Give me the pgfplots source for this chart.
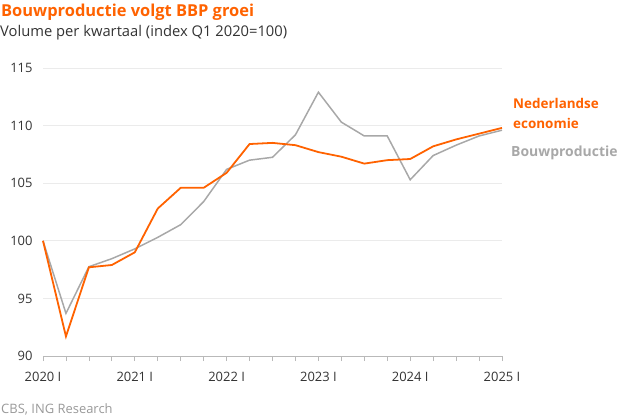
\documentclass[border=0pt]{standalone}
\usepackage{pgfplots}
\pgfplotsset{compat=1.18}
\usepackage{fontspec}
\setmainfont{Open Sans}
\definecolor{ingorange}{HTML}{FF6200}
\definecolor{inggray}{HTML}{A8A8A8}
\definecolor{gridgray}{HTML}{EBEBEB}
\definecolor{txt}{HTML}{333333}

\begin{document}
\begin{tikzpicture}[x=1bp,y=1bp]
\path[use as bounding box] (-43,-62) rectangle (583,356);
\begin{axis}[
    at={(0,0)}, anchor=origin,
    scale only axis,
    width=459bp, height=288bp,
    xmin=0, xmax=20, ymin=90, ymax=115,
    axis y line*=left,
    axis x line*=bottom,
    y axis line style={draw=none},
    x axis line style={draw=inggray!80, line width=0.8pt, -},
    ytick={90,95,...,115},
    xtick={0,...,20},
    xticklabels={2020 I,,,,2021 I,,,,2022 I,,,,2023 I,,,,2024 I,,,,2025 I},
    ymajorgrids, grid style={gridgray, line width=0.8pt},
    ytick style={draw=none},
    xtick style={draw=inggray!80, line width=0.8pt},
    tick align=outside, major tick length=5bp,
    tick label style={font=\fontsize{13}{15}\selectfont, text=txt},
    yticklabel style={anchor=east, xshift=-2bp},
    xticklabel style={yshift=-8bp},
    /pgf/number format/assume math mode=true,
    clip=false,
]
\addplot[inggray, line width=1.5pt] coordinates {
 (0,100) (1,93.7) (2,97.75) (3,98.45) (4,99.3) (5,100.3) (6,101.4) (7,103.4)
 (8,106.2) (9,107.0) (10,107.25) (11,109.2) (12,112.9) (13,110.3) (14,109.1)
 (15,109.1) (16,105.3) (17,107.4) (18,108.3) (19,109.1) (20,109.6)
};
\addplot[ingorange, line width=1.8pt] coordinates {
 (0,100) (1,91.7) (2,97.7) (3,97.9) (4,99.0) (5,102.8) (6,104.6) (7,104.6)
 (8,105.9) (9,108.4) (10,108.5) (11,108.3) (12,107.7) (13,107.3) (14,106.7)
 (15,107.0) (16,107.1) (17,108.2) (18,108.8) (19,109.3) (20,109.8)
};
\end{axis}
\node[anchor=west, text=ingorange, font=\fontsize{13.5}{20}\selectfont\bfseries, align=left, inner sep=0pt] at (470,243) {Nederlandse\\economie};
\node[anchor=west, text=inggray, font=\fontsize{14}{20}\selectfont\bfseries, inner sep=0pt] at (468,203) {Bouwproductie};
\node[anchor=west, text=ingorange, font=\fontsize{16.5}{18}\selectfont\bfseries, inner sep=0pt] at (-42,344) {Bouwproductie volgt BBP groei};
\node[anchor=west, text=txt, font=\fontsize{14.8}{16}\selectfont, inner sep=0pt] at (-43,323) {Volume per kwartaal (index Q1 2020=100)};
\node[anchor=west, text=gray!80, font=\fontsize{13}{14}\selectfont, inner sep=0pt] at (-42,-53) {CBS, ING Research};
\end{tikzpicture}
\end{document}
